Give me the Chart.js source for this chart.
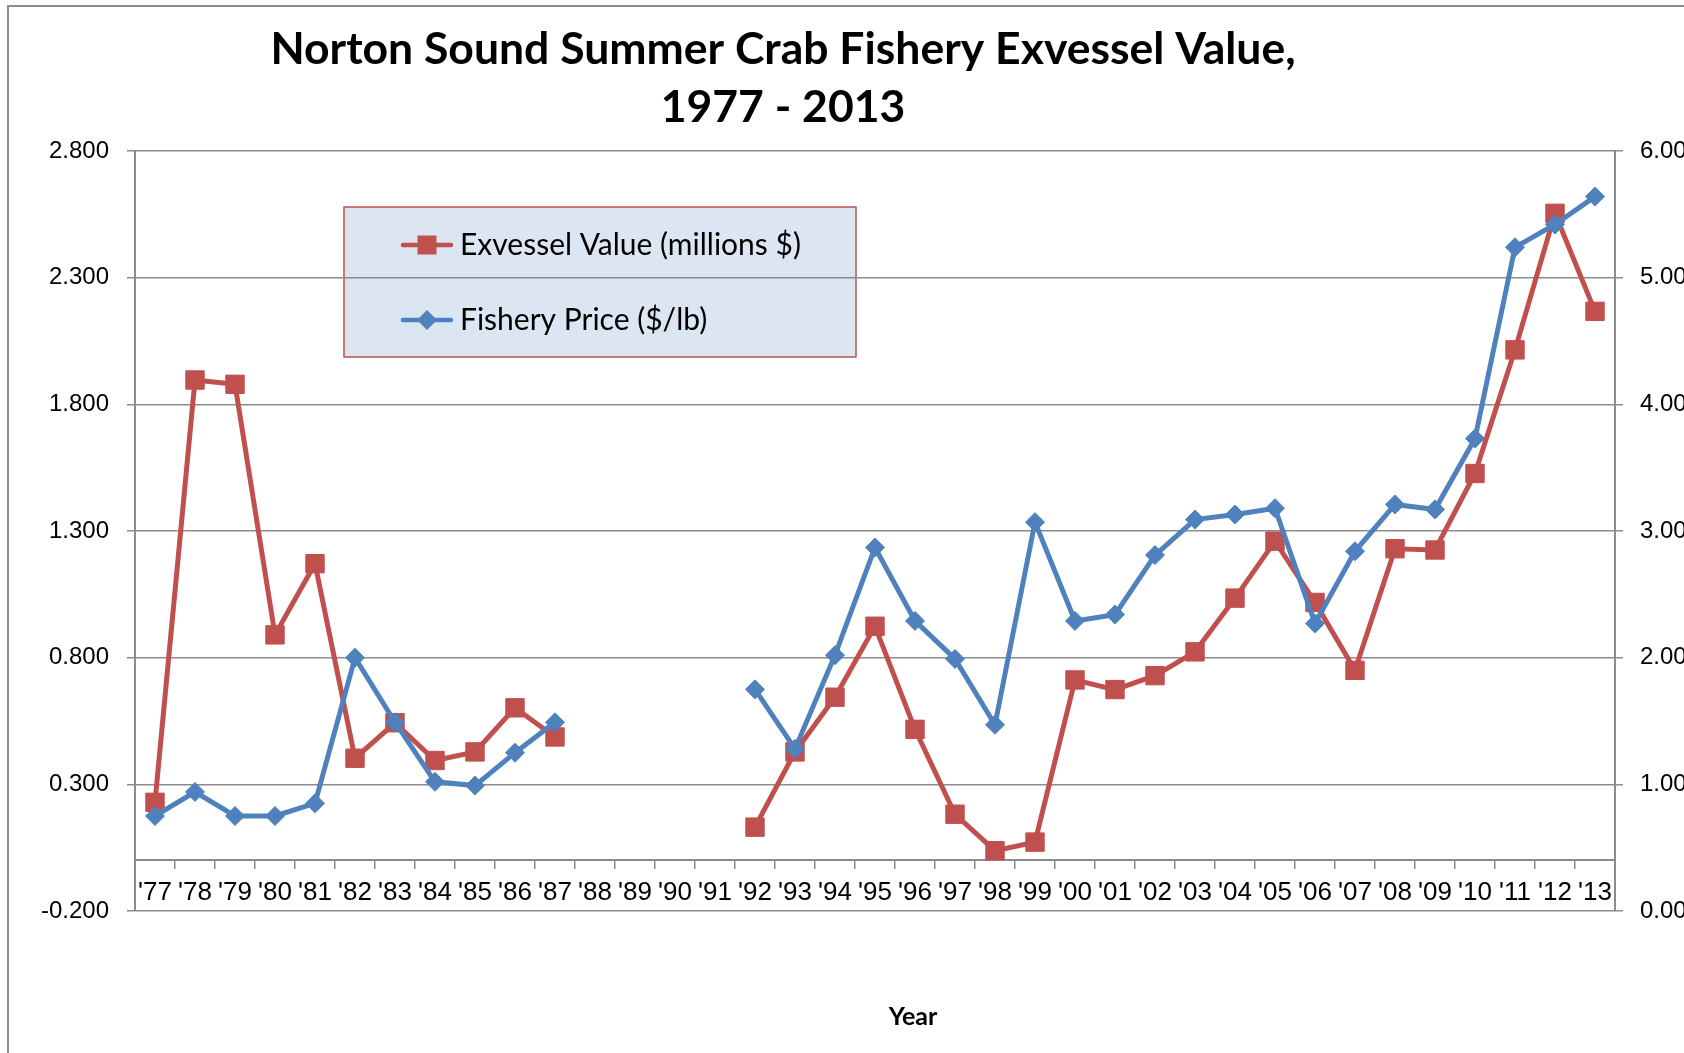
<!DOCTYPE html>
<html>
<head>
<meta charset="utf-8">
<title>Norton Sound Summer Crab Fishery Exvessel Value</title>
<script src="https://cdn.jsdelivr.net/npm/chart.js@4.4.0/dist/chart.umd.min.js"></script>
<style>
  html, body { margin: 0; padding: 0; background: #fff; overflow: hidden; }
  #wrap { position: relative; width: 1684px; height: 1053px; overflow: hidden; }
  #frame { position: absolute; left: 7px; top: 5px; width: 2000px; height: 2000px;
           border-left: 2px solid #8c8c8c; border-top: 2px solid #8c8c8c; }
  canvas { position: absolute; left: 0; top: 0; }
</style>
</head>
<body>
<div id="wrap">
  <div id="frame"></div>
  <canvas id="myChart" width="1720" height="1053"></canvas>
</div>
<script>
// Season labels, 1977 - 2013 (no fishery 1988-1991)
var years = ["'77", "'78", "'79", "'80", "'81", "'82", "'83", "'84", "'85", "'86", "'87",
  "'88", "'89", "'90", "'91", "'92", "'93", "'94", "'95", "'96", "'97", "'98", "'99",
  "'00", "'01", "'02", "'03", "'04", "'05", "'06", "'07", "'08", "'09", "'10", "'11", "'12", "'13"];

// Exvessel value, millions $ (left axis)
var exvessel = [0.229, 1.896, 1.879, 0.890, 1.171, 0.403, 0.543, 0.394, 0.428, 0.602, 0.487,
  null, null, null, null,
  0.131, 0.428, 0.644, 0.924, 0.517, 0.182, 0.038, 0.072, 0.712, 0.674, 0.729,
  0.823, 1.035, 1.260, 1.018, 0.750, 1.230, 1.225, 1.527, 2.015, 2.554, 2.167];

// Fishery price, $/lb (right axis)
var price = [0.75, 0.94, 0.75, 0.75, 0.85, 2.00, 1.49, 1.02, 0.99, 1.25, 1.49,
  null, null, null, null,
  1.75, 1.28, 2.02, 2.87, 2.29, 1.99, 1.47, 3.07, 2.29, 2.34, 2.81,
  3.09, 3.13, 3.18, 2.27, 2.84, 3.21, 3.17, 3.73, 5.24, 5.42, 5.64];

var titleLines = ['Norton Sound Summer Crab Fishery Exvessel Value,', '1977 - 2013'];
var xTitle = 'Year';
var seriesNames = ['Exvessel Value (millions $)', 'Fishery Price ($/lb)'];

var red = '#C0504D';
var blue = '#4F81BD';
var axisGray = '#8c8c8c';

// titles + boxed legend drawn by hand (Excel style placement)
var textPlugin = {
  id: 'chartText',
  beforeDraw: function(chart) {
    var c = chart.ctx;
    c.save();
    c.fillStyle = '#DCE6F2';
    c.fillRect(344, 207, 512, 150);
    c.strokeStyle = red;
    c.lineWidth = 1.5;
    c.strokeRect(344, 207, 512, 150);

    var rows = [{ y: 245, color: red, style: 'rect' }, { y: 320, color: blue, style: 'diamond' }];
    rows.forEach(function(r, i) {
      c.strokeStyle = r.color;
      c.fillStyle = r.color;
      c.lineWidth = 4.5;
      c.lineCap = 'round';
      c.beginPath();
      c.moveTo(403, r.y);
      c.lineTo(451, r.y);
      c.stroke();
      if (r.style === 'rect') {
        c.fillRect(427 - 9.5, r.y - 9.5, 19, 19);
      } else {
        c.beginPath();
        c.moveTo(427, r.y - 10);
        c.lineTo(437, r.y);
        c.lineTo(427, r.y + 10);
        c.lineTo(417, r.y);
        c.closePath();
        c.fill();
      }
      c.fillStyle = '#000';
      c.font = '30px Lato';
      c.textAlign = 'left';
      c.textBaseline = 'middle';
      c.fillText(seriesNames[i], 460, r.y);
    });
    c.restore();
  },
  afterDraw: function(chart) {
    var c = chart.ctx;
    c.save();
    c.fillStyle = '#000';
    c.textAlign = 'center';
    c.textBaseline = 'middle';
    c.font = 'bold 44.5px Lato';
    c.fillText(titleLines[0], 783, 50);
    c.fillText(titleLines[1], 783, 108);
    c.font = 'bold 25px Lato';
    c.fillText(xTitle, 913, 1017);
    c.restore();
  }
};

var ctx = document.getElementById('myChart').getContext('2d');
var myChart = new Chart(ctx, {
  type: 'line',
  data: {
    labels: years,
    datasets: [{
      label: seriesNames[0],
      data: exvessel,
      yAxisID: 'y',
      borderColor: red,
      backgroundColor: red,
      pointBorderColor: red,
      borderWidth: 5,
      pointStyle: 'rect',
      pointRadius: 13,
      pointBorderWidth: 1,
      tension: 0,
      spanGaps: false,
      order: 1
    }, {
      label: seriesNames[1],
      data: price,
      yAxisID: 'y1',
      borderColor: blue,
      backgroundColor: blue,
      pointBorderColor: blue,
      borderWidth: 5,
      pointStyle: 'rectRot',
      pointRadius: 9.5,
      pointBorderWidth: 1,
      tension: 0,
      spanGaps: false,
      order: 0
    }]
  },
  options: {
    responsive: false,
    animation: false,
    layout: { padding: { top: 151, bottom: 142, left: 0, right: 0 } },
    plugins: {
      legend: { display: false },
      tooltip: { enabled: false },
      title: { display: false }
    },
    scales: {
      x: {
        position: { y: 0 },
        offset: true,
        grid: { offset: true, drawOnChartArea: false, tickLength: 8, color: axisGray, lineWidth: 1.5 },
        border: { display: true, color: axisGray, width: 2 },
        ticks: {
          autoSkip: false, maxRotation: 0, minRotation: 0, padding: 9, color: '#000',
          font: { family: 'Liberation Sans', size: 26 }
        }
      },
      y: {
        position: 'left',
        min: -0.2,
        max: 2.8,
        ticks: {
          stepSize: 0.5, padding: 18, color: '#000',
          font: { family: 'Liberation Sans', size: 24 },
          callback: function(v) { return v.toFixed(3); }
        },
        grid: { color: axisGray, lineWidth: 1.5, tickLength: 8 },
        border: { display: true, color: axisGray, width: 2 },
        afterFit: function(s) { s.width = 135; }
      },
      y1: {
        position: 'right',
        min: 0,
        max: 6,
        ticks: {
          stepSize: 1, padding: 17, color: '#000',
          font: { family: 'Liberation Sans', size: 24 },
          callback: function(v) { return v.toFixed(2); }
        },
        grid: { drawOnChartArea: false, color: axisGray, lineWidth: 1.5, tickLength: 8 },
        border: { display: true, color: axisGray, width: 2 },
        afterFit: function(s) { s.width = 105; }
      }
    }
  },
  plugins: [textPlugin]
});
</script>
</body>
</html>
